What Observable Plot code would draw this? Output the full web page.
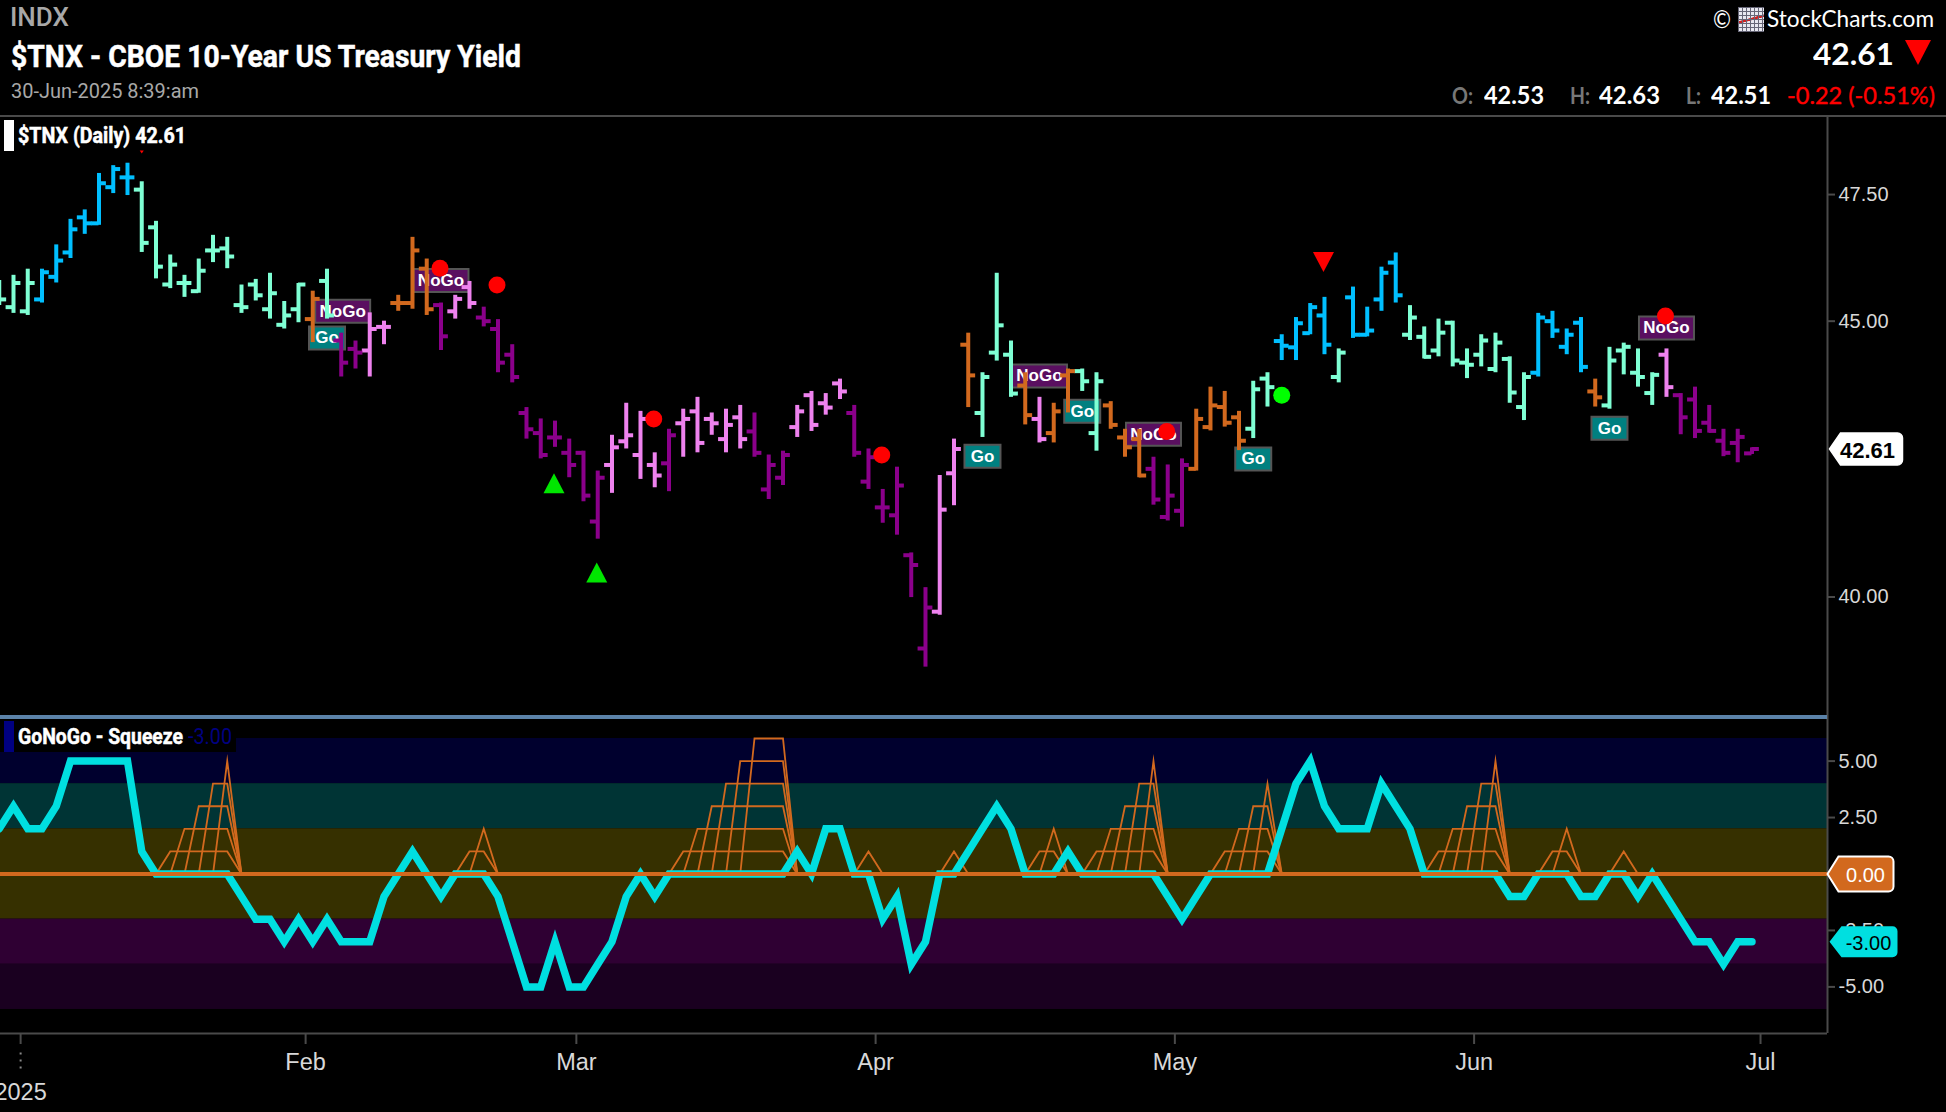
<!DOCTYPE html>
<html>
<head>
<meta charset="utf-8">
<script src="https://cdn.jsdelivr.net/npm/d3@7"></script>
<script src="https://cdn.jsdelivr.net/npm/@observablehq/plot@0.6"></script>
<style>
html,body{margin:0;padding:0;background:#000;width:1946px;height:1112px;overflow:hidden}
#root{position:absolute;left:0;top:0;width:1946px;height:1112px;background:#000;overflow:hidden}
#root svg{position:absolute;left:0;background:transparent}
.t{position:absolute;white-space:nowrap;line-height:1;transform-origin:left center}
.rb{font-family:Roboto,sans-serif;font-weight:700;color:#fff}
.la{font-family:Lato,sans-serif;color:#fff}
.ln{position:absolute}
</style>
</head>
<body>
<div id="root"></div>
<script>
// ---------- values ----------
const firstSession = -1; // the session before 31-Dec-2024 is cut by the left edge
const opens = [45.60,45.27,45.19,45.42,45.86,46.34,47.04,46.92,47.65,47.85,47.60,46.84,45.71,45.74,45.58,46.38,46.42,45.31,45.71,45.23,44.93,45.23,45.04,45.78,44.63,44.47,44.44,44.89,45.35,45.35,46.02,45.31,45.19,45.66,45.07,44.85,44.36,43.27,42.90,42.82,42.54,42.54,41.31,42.32,42.75,42.50,42.32,42.35,43.08,43.30,43.16,42.79,43.19,42.93,41.88,42.09,43.01,43.60,43.45,43.82,43.27,42.02,41.56,41.42,40.72,39.13,39.75,42.17,44.55,43.27,44.40,44.36,43.78,43.16,42.90,43.97,44.05,42.90,43.41,42.82,42.79,42.25,41.39,41.50,42.25,43.01,43.38,43.19,42.98,43.91,44.62,44.50,44.77,45.11,43.94,45.46,44.74,45.42,46.14,44.74,44.70,44.44,44.97,44.21,44.36,44.09,44.28,43.38,44.02,45.00,44.51,44.97,43.67,43.41,44.44,44.02,43.64,44.36,43.60,43.52,43.09,42.76,42.72,42.53];
const highs = [45.79,45.89,46.01,46.01,46.49,47.00,47.19,47.93,48.09,48.14,47.76,46.96,46.29,45.89,46.21,46.68,46.64,45.70,45.81,45.93,45.38,45.73,45.58,46.01,44.77,44.62,45.16,45.00,45.50,46.64,46.21,45.35,45.50,45.77,45.27,45.03,44.55,43.37,43.16,43.12,42.79,42.57,42.21,42.86,43.45,43.30,42.54,42.97,43.34,43.56,43.27,43.34,43.41,43.27,42.50,42.57,43.41,43.67,43.63,43.90,43.41,42.61,41.88,42.28,40.76,40.16,42.13,42.79,44.77,44.02,45.93,44.62,44.02,43.56,43.45,44.09,44.09,44.02,43.48,42.97,42.97,42.46,42.32,42.43,43.34,43.75,43.67,43.30,43.86,44.02,44.74,45.07,45.34,45.46,44.47,45.66,45.27,46.05,46.33,45.30,44.89,45.04,45.00,44.47,44.74,44.77,44.32,44.02,45.15,45.19,44.85,45.07,43.90,44.50,44.58,44.47,44.02,44.47,43.63,43.75,43.41,42.97,42.97,42.63];
const lows = [45.30,45.15,45.11,45.35,45.74,46.22,46.70,46.88,47.52,47.48,46.34,45.82,45.63,45.46,45.54,46.14,46.02,45.15,45.39,45.04,44.85,44.97,44.59,45.04,43.94,44.09,43.94,44.55,45.19,45.23,45.11,44.44,45.04,45.23,44.89,44.02,43.83,42.79,42.43,42.64,42.09,41.66,41.00,41.81,42.61,42.06,41.91,41.84,42.46,42.54,42.86,42.54,42.61,42.46,41.70,41.95,42.82,42.93,43.23,43.52,42.46,41.88,41.28,41.07,39.99,38.82,39.69,41.59,43.37,42.82,44.24,43.56,43.05,42.72,42.72,43.27,43.67,42.57,42.97,42.46,42.09,41.60,41.32,41.21,42.21,42.94,43.01,42.58,42.80,43.38,44.25,44.25,44.74,44.36,43.83,44.67,44.70,45.19,45.35,44.63,44.28,44.32,44.13,43.91,44.13,44.02,43.45,43.13,43.94,44.67,44.36,44.02,43.38,43.34,43.98,43.75,43.41,43.56,42.87,42.80,42.90,42.47,42.36,42.51];
const closes = [45.42,45.74,45.74,45.95,46.18,46.80,46.92,47.73,48.02,47.85,46.53,46.06,46.10,45.74,45.98,46.38,46.26,45.27,45.50,45.54,45.11,45.71,45.43,45.11,44.21,44.40,44.85,44.89,45.35,46.38,45.23,44.71,45.43,45.35,45.00,44.21,43.94,42.97,42.50,42.82,42.32,41.77,42.09,42.64,42.86,43.16,42.13,42.86,43.16,42.72,43.08,43.05,42.79,42.54,42.32,42.50,43.30,43.05,43.37,43.67,42.54,42.46,41.56,41.95,40.55,39.82,41.52,42.61,43.97,43.94,44.92,43.63,43.23,42.79,43.30,44.05,43.86,43.86,43.05,42.64,42.13,41.70,41.77,42.32,43.16,43.41,43.09,42.76,43.71,43.75,44.53,44.96,45.27,44.55,44.40,44.74,44.82,45.94,45.50,45.07,44.32,44.78,44.25,44.17,44.63,44.59,43.65,43.94,45.07,44.82,44.74,44.13,43.56,44.25,44.51,43.94,43.98,43.75,43.19,42.94,42.94,42.54,42.83,42.61];
// M mint, B blue, O orange, P purple, V violet
const barStates = "MMMBBBBBBBMMMMMMMMMMMMOMPPVVOOOPVVPPPPPPPPPVVVVPVVVVVPPPVVVVPPPPPPVVOMMMOVOOMMOOOPPPOOOOMMBBBBMBBBBMMMMMMMMMBBBBOMMMMVPPPPPP".split("");
const stateNames = ["M","B","O","P","V"];
const stateColors = ["#7FFFD4","#00BFFF","#D2691E","#8B008B","#EE82EE"];

const squeezeValues = [2,3,2,2,3,5,5,5,5,5,1,0,0,0,0,0,0,-1,-2,-2,-3,-2,-3,-2,-3,-3,-3,-1,0,1,0,-1,0,0,0,-1,-3,-5,-5,-3,-5,-5,-4,-3,-1,0,-1,0,0,0,0,0,0,0,0,0,1,0,2,2,0,0,-2,-1,-4,-3,0,0,1,2,3,2,0,0,0,1,0,0,0,0,0,0,-1,-2,-1,0,0,0,0,0,2,4,5,3,2,2,2,4,3,2,0,0,0,0,0,0,-1,-1,0,0,0,-1,-1,0,0,-1,0,-1,-2,-3,-3,-4,-3,-3];
const squeezeCounts = [0,0,0,0,0,0,0,0,0,0,0,0,1,2,3,4,5,0,0,0,0,0,0,0,0,0,0,0,0,0,0,0,0,1,2,0,0,0,0,0,0,0,0,0,0,0,0,0,1,2,3,4,5,6,6,6,0,0,0,0,0,1,0,0,0,0,0,1,0,0,0,0,0,1,2,0,0,1,2,3,4,5,0,0,0,0,1,2,3,4,0,0,0,0,0,0,0,0,0,0,0,1,2,3,4,5,0,0,0,1,2,0,0,0,1,0,0,0,0,0,0,0,0,0];
const squeezeLevels = [1,2,3,4,5,6];

const bandTops = [6,4,2,-2,-4];
const bandBottoms = [4,2,-2,-4,-6];
const bandColors = ["#00002E","#003435","#363000","#2F0033","#1A0020"];

const monthSessions = [0.5,20.5,39.5,60.5,81.5,102.5,122.6];
const monthLabels = ["","Feb","Mar","Apr","May","Jun","Jul"];
const priceTicks = [40,45,47.5];
const squeezeTicks = [5,2.5,-2.5,-5];
const lastPrice = 42.61, lastSqueeze = -3, zeroLine = 0;

const redDotSessions = [30,34,45,61,81,116];
const redDotPrices = [46.03,45.70,43.16,42.50,42.93,45.10];
const greenDotSessions = [89];
const greenDotPrices = [43.60];
const upSessions = [38,41];
const upPrices = [41.99,40.42];
const downSessions = [92];
const downPrices = [46.15];
const tinyDownSessions = [9];
const tinyDownPrices = [48.37];
const goSessions = [22,68,75,87,112];
const goPrices = [44.68,42.48,43.30,42.43,42.99];
const noGoSessions = [23.1,30,72,80,116];
const noGoPrices = [45.19,45.79,43.96,42.88,44.87];

// ---------- tables ----------
const bars = opens.map((o,k)=>({s:firstSession+k,o,h:highs[k],l:lows[k],c:closes[k],st:barStates[k]}));
const squeeze = squeezeValues.map((v,k)=>({s:firstSession+k,v}));
const ladder = squeezeLevels.flatMap(level=>squeezeCounts.map((n,k)=>({s:firstSession+k,level,v:n>=level?level:0})));
const pts = (xs,ys)=>xs.map((s,k)=>({s,p:ys[k]}));
const bands = bandTops.map((t,k)=>({t,b:bandBottoms[k],c:bandColors[k]}));

// ---------- scales shared by the panels ----------
const xDomain = [-0.912,127.3];
const W = 1946, MR = 119;
const color = {domain:stateNames,range:stateColors};
const gray = "#4a4a4a", label = "#d8d8d8", axisFont = "Liberation Sans, Arial, sans-serif";
const sym = f=>({draw:f});
const box = (w,h)=>sym(c=>{c.moveTo(-w/2,-h/2);c.lineTo(w/2,-h/2);c.lineTo(w/2,h/2);c.lineTo(-w/2,h/2);c.closePath();});
const tri = (w,h,dir)=>sym(c=>{c.moveTo(0,-dir*h/2);c.lineTo(w/2,dir*h/2);c.lineTo(-w/2,dir*h/2);c.closePath();});
const badge = (x0,x1,hh,r)=>sym(c=>{c.moveTo(0,0);c.lineTo(x0,-hh);c.lineTo(x1-r,-hh);c.arcTo(x1,-hh,x1,-hh+r,r);c.lineTo(x1,hh-r);c.arcTo(x1,hh,x1-r,hh,r);c.lineTo(x0,hh);c.closePath();});

const barW = 4, tickLen = 0.52;
const price = Plot.plot({
  width:W,height:600,marginLeft:0,marginRight:MR,marginTop:0,marginBottom:0,
  style:{background:"transparent",top:"116px",overflow:"hidden"},
  x:{type:"linear",domain:xDomain,axis:null},
  y:{type:"log",domain:[38.01,49.11],axis:null},
  color,
  marks:[
    Plot.ruleX([xDomain[1]],{stroke:gray,strokeWidth:2}),
    Plot.axisY({anchor:"right",ticks:priceTicks,tickFormat:d=>d.toFixed(2),tickSize:7,tickPadding:4,stroke:gray,color:label,fontSize:20,fontFamily:axisFont,strokeWidth:2,strokeOpacity:1,label:null}),
    Plot.dot(pts(goSessions,goPrices),{x:"s",y:"p",symbol:box(36,23),fill:"#008080",stroke:"#555",strokeWidth:2}),
    Plot.dot(pts(noGoSessions,noGoPrices),{x:"s",y:"p",symbol:box(55,23),fill:"#5A0F60",stroke:"#555",strokeWidth:2}),
    Plot.text(pts(goSessions,goPrices),{x:"s",y:"p",text:()=>"Go",fill:"#fff",fontSize:17,fontWeight:700,fontFamily:axisFont}),
    Plot.text(pts(noGoSessions,noGoPrices),{x:"s",y:"p",text:()=>"NoGo",fill:"#fff",fontSize:17,fontWeight:700,fontFamily:axisFont}),
    Plot.ruleX(bars,{x:"s",y1:"l",y2:"h",stroke:"st",strokeWidth:barW}),
    Plot.ruleY(bars,{y:"o",x1:d=>d.s-tickLen,x2:"s",stroke:"st",strokeWidth:barW}),
    Plot.ruleY(bars,{y:"c",x1:"s",x2:d=>d.s+tickLen,stroke:"st",strokeWidth:barW}),
    Plot.dot(pts(redDotSessions,redDotPrices),{x:"s",dx:-1,y:"p",r:8.5,fill:"#FF0000"}),
    Plot.dot(pts(greenDotSessions,greenDotPrices),{x:"s",y:"p",r:8.5,fill:"#00FF00"}),
    Plot.dot(pts(upSessions,upPrices),{x:"s",dx:-1,y:"p",symbol:tri(21,20,1),fill:"#00E600"}),
    Plot.dot(pts(downSessions,downPrices),{x:"s",dx:-1,y:"p",symbol:tri(21,20,-1),fill:"#FF0000"}),
    Plot.dot(pts(tinyDownSessions,tinyDownPrices),{x:"s",y:"p",symbol:tri(4,3,-1),fill:"#FF0000"}),
    Plot.dot([{s:xDomain[1],p:lastPrice}],{x:"s",y:"p",dx:2,symbol:badge(11,73,16,5),fill:"#fff",stroke:"#fff"}),
    Plot.text([{s:xDomain[1],p:lastPrice}],{x:"s",y:"p",dx:40,dy:1.5,text:d=>d.p.toFixed(2),fill:"#000",fontSize:22,fontWeight:700,fontFamily:axisFont})
  ]
});

const sq = Plot.plot({
  width:W,height:396,marginLeft:0,marginRight:MR,marginTop:0,marginBottom:79,
  style:{background:"transparent",top:"716px",overflow:"visible"},
  x:{type:"linear",domain:xDomain,axis:null},
  y:{domain:[-7.064,6.975],axis:null},
  marks:[
    Plot.rect(bands,{x1:xDomain[0],x2:xDomain[1],y1:"b",y2:"t",fill:"c"}),
    Plot.ruleX([xDomain[1]],{stroke:gray,strokeWidth:2}),
    Plot.ruleY([-7.064],{x1:xDomain[0],x2:xDomain[1],stroke:gray,strokeWidth:2}),
    Plot.axisY({anchor:"right",ticks:squeezeTicks,tickFormat:d=>d.toFixed(2),tickSize:7,tickPadding:4,stroke:gray,color:label,fontSize:20,fontFamily:axisFont,strokeWidth:2,strokeOpacity:1,label:null}),
    Plot.axisX({anchor:"bottom",ticks:monthSessions,tickFormat:d=>monthLabels[monthSessions.indexOf(d)],tickSize:11,tickPadding:9,stroke:gray,color:label,fontSize:23.5,fontFamily:axisFont,strokeWidth:2,strokeOpacity:1,label:null}),
    Plot.ruleX([monthSessions[0]],{y1:-7.93,y2:-8.72,stroke:"#888",strokeWidth:2,strokeDasharray:"2 5"}),
    Plot.text(["2025"],{x:monthSessions[0],y:-9.67,text:d=>d,fill:label,fontSize:23.5,fontFamily:axisFont,clip:false}),
    Plot.line(ladder,{x:"s",y:"v",z:"level",stroke:"#D2691E",strokeWidth:1.8,strokeLinejoin:"miter",strokeMiterlimit:20,curve:"linear"}),
    Plot.line(squeeze,{x:"s",y:"v",stroke:"#00DFE0",strokeWidth:7.5,strokeLinejoin:"miter",strokeMiterlimit:10,curve:"linear"}),
    Plot.ruleY([zeroLine],{x1:xDomain[0],x2:xDomain[1],stroke:"#D2691E",strokeWidth:4}),
    Plot.dot([{s:xDomain[1],v:lastSqueeze}],{x:"s",y:"v",dx:2,symbol:badge(12,68,15.5,5),fill:"#00DFE0"}),
    Plot.text([{s:xDomain[1],v:lastSqueeze}],{x:"s",y:"v",dx:41,dy:1.5,text:d=>d.v.toFixed(2),fill:"#000",fontSize:20,fontFamily:axisFont}),
    Plot.dot([{s:xDomain[1],v:zeroLine}],{x:"s",y:"v",dx:0,symbol:badge(11,66,17.5,5),fill:"#D2691E",stroke:"#fff",strokeWidth:2}),
    Plot.text([{s:xDomain[1],v:zeroLine}],{x:"s",y:"v",dx:38,dy:1.5,text:d=>d.v.toFixed(2),fill:"#fff",fontSize:20,fontFamily:axisFont})
  ]
});

const root = document.getElementById("root");
root.append(price,sq);

// ---------- header and legends ----------
function put(text,cls,x,cy,size,fit,extra){
  const e=document.createElement("div");
  e.className="t "+cls; e.textContent=text;
  e.style.left=x+"px"; e.style.top=(cy-size/2)+"px"; e.style.fontSize=size+"px";
  if(extra) Object.assign(e.style,extra);
  root.append(e);
  if(fit){const w=e.getBoundingClientRect().width;e.style.transform="scaleX("+fit/w+")";}
  return e;
}
function block(x,y,w,h,bg){
  const e=document.createElement("div");e.className="ln";
  Object.assign(e.style,{left:x+"px",top:y+"px",width:w+"px",height:h+"px",background:bg});
  root.append(e);return e;
}
const heavy = {webkitTextStroke:"0.5px #fff"};
block(0,114.5,W,2,gray);
block(0,715,1827,4,"#5B82A8");

put("INDX","rb",10,17,25,59,{color:"#a8a8a8",fontWeight:500});
put("$TNX - CBOE 10-Year US Treasury Yield","rb",11,56,31,510,heavy);
put("30-Jun-2025 8:39:am","rb",11,91,20,188,{color:"#a8a8a8",fontWeight:400});

block(4,120,10,31,"#fff");
put("$TNX (Daily) 42.61","rb",18,136,22,168,heavy);
block(0,719,236,33,"#000");
block(4,721,10,31,"#000080");
put("GoNoGo - Squeeze","rb",18,737,22,165,heavy);
put("-3.00","rb",188,737,22,44,{color:"#000080",fontWeight:400});

put("©","la",1713,18,25,18);
block(1738,7,26,25,"repeating-linear-gradient(90deg,#667 0 1px,transparent 1px 4px),repeating-linear-gradient(0deg,#667 0 1px,transparent 1px 4px),linear-gradient(165deg,transparent 44%,#c22 46%,#c22 52%,transparent 54%),#e8e8f0");
put("StockCharts.com","la",1767,18,24,167);
put("42.61","la",1813,53,31,81,{fontWeight:700});
const arrow=block(1905,40,26,25,"#f00");
arrow.style.clipPath="polygon(0 0,100% 0,50% 100%)";
put("O:","la",1452,95,23,21,{color:"#777",fontWeight:700});
put("42.53","la",1484,95,24,60,{fontWeight:700});
put("H:","la",1570,95,23,20,{color:"#777",fontWeight:700});
put("42.63","la",1599,95,24,61,{fontWeight:700});
put("L:","la",1686,95,23,15,{color:"#777",fontWeight:700});
put("42.51","la",1711,95,24,60,{fontWeight:700});
put("-0.22 (-0.51%)","la",1787,95,24,148,{color:"#f00",fontWeight:400,webkitTextStroke:"0.4px #f00"});
</script>
</body>
</html>
